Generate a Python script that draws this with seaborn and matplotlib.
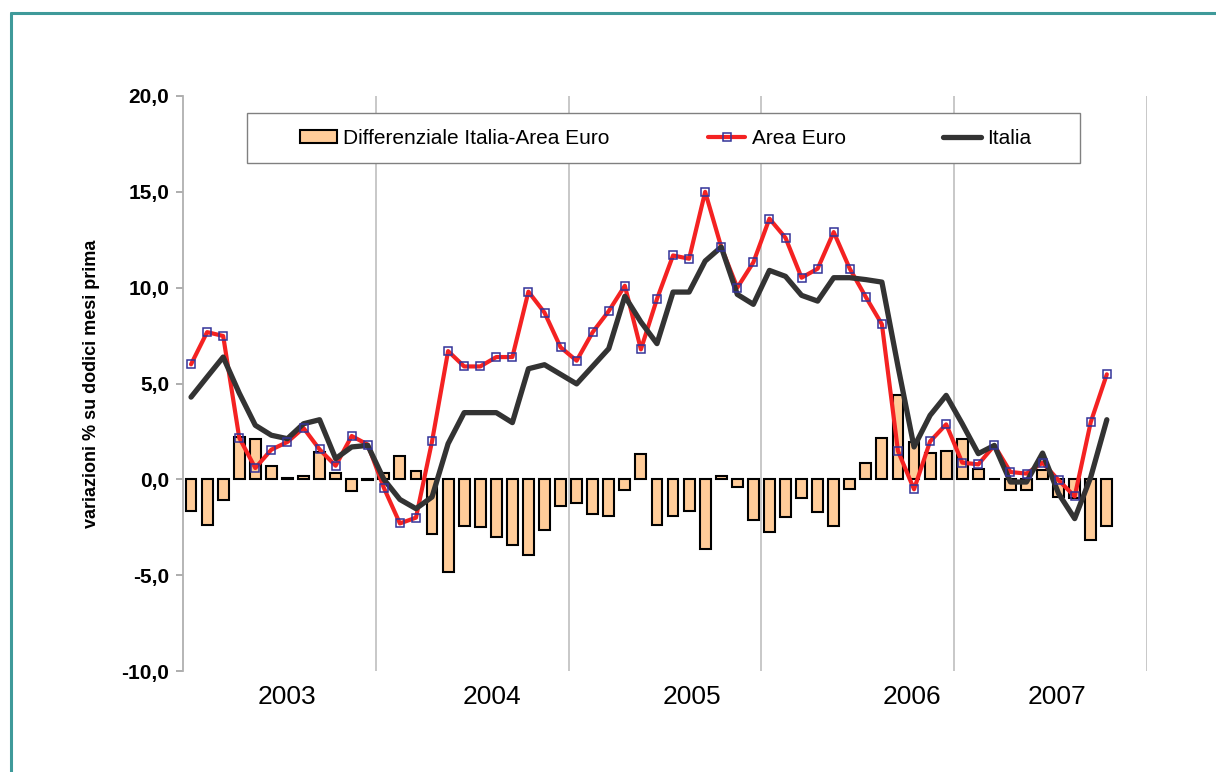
import matplotlib
matplotlib.use("Agg")
import matplotlib.pyplot as plt
import numpy as np
import pandas as pd
import seaborn as sns
from matplotlib.lines import Line2D
from matplotlib.patches import Patch, Rectangle

# monthly values, % change on twelve months earlier
area_euro = [6.0, 7.68, 7.48, 2.17, 0.59, 1.55, 1.95, 2.68, 1.56, 0.71, 2.26, 1.81,
             -0.44, -2.3, -2.0, 1.98, 6.69, 5.89, 5.89, 6.38, 6.38, 9.79, 8.70, 6.89,
             6.19, 7.68, 8.78, 10.1, 6.78, 9.41, 11.68, 11.51, 15.0, 12.12, 10.0, 11.32,
             13.6, 12.6, 10.52, 10.99, 12.9, 10.99, 9.51, 8.09, 1.48, -0.52, 1.98, 2.87,
             0.87, 0.78, 1.77, 0.38, 0.30, 0.87, -0.05, -0.89, 2.99, 5.48]
italia = [4.29, 5.34, 6.38, 4.5, 2.82, 2.3, 2.12, 2.9, 3.11, 1.08, 1.69, 1.77,
          0.0, -1.05, -1.53, -0.92, 1.86, 3.48, 3.48, 3.48, 2.96, 5.77, 5.98, 5.48,
          4.98, 5.9, 6.82, 9.55, 8.21, 7.08, 9.77, 9.77, 11.39, 12.12, 9.65, 9.13,
          10.9, 10.59, 9.6, 9.3, 10.52, 10.52, 10.42, 10.29, 5.9, 1.69, 3.34, 4.38,
          2.9, 1.34, 1.77, -0.14, -0.14, 1.37, -0.75, -2.05, 0.12, 3.11]
differenziale = [-1.67, -2.36, -1.1, 2.2, 2.12, 0.7, 0.05, 0.16, 1.42, 0.35, -0.63, -0.03,
                 0.34, 1.23, 0.43, -2.83, -4.83, -2.43, -2.49, -3.0, -3.44, -3.96, -2.66, -1.41,
                 -1.24, -1.83, -1.93, -0.57, 1.3, -2.36, -1.93, -1.67, -3.65, 0.17, -0.40, -2.14,
                 -2.75, -1.97, -0.97, -1.7, -2.45, -0.52, 0.87, 2.17, 4.38, 1.95, 1.37, 1.48,
                 2.1, 0.56, 0.02, -0.56, -0.55, 0.5, -0.9, -0.95, -3.15, -2.45]
years = ["2003", "2004", "2005", "2006", "2007"]
year_label_pos = [6.0, 18.7, 31.2, 44.9, 53.9]
year_bounds = [11.5, 23.5, 35.5, 47.5, 59.5]

BAR_COLOR = "#FFCC99"
RED = "#F42222"
DARK = "#333333"
NAVY = "#333399"

sns.set_theme(style="white")
plt.rcParams["font.family"] = ["Liberation Sans", "DejaVu Sans"]
plt.rcParams["text.color"] = "black"
plt.rcParams["axes.labelcolor"] = "black"
plt.rcParams["ytick.labelcolor"] = "black"

data = pd.DataFrame({
    "month": np.arange(len(area_euro)),
    "area_euro": area_euro,
    "italia": italia,
    "diff": differenziale,
})

fig = plt.figure(figsize=(12.16, 7.72), dpi=100)
ax = fig.add_axes([183 / 1216, 1 - 671 / 772, 964 / 1216, 575 / 772])

sns.barplot(data=data, x="month", y="diff", color=BAR_COLOR, saturation=1,
            width=0.68, edgecolor="black", linewidth=1.5, ax=ax, zorder=2)
sns.lineplot(data=data, x="month", y="area_euro", color=RED, linewidth=3.0, ax=ax, zorder=3)
sns.lineplot(data=data, x="month", y="italia", color=DARK, linewidth=3.8, ax=ax, zorder=4)
ax.plot(data["month"], data["area_euro"], linestyle="none", marker="s", markersize=6,
        markerfacecolor="none", markeredgecolor=NAVY, markeredgewidth=1.1, zorder=5)

ax.set_xlim(-0.5, 59.5)
ax.set_ylim(-10, 20)
ax.set_xticks(year_bounds)
ax.set_xticklabels([])
ax.tick_params(axis="x", length=0)
ax.grid(axis="x", color="#c4c4c4", linewidth=1.3, zorder=0)
ax.set_axisbelow(True)

yt = np.arange(-10, 21, 5)
ax.set_yticks(yt)
ax.set_yticklabels([f"{v:.1f}".replace(".", ",") for v in yt], fontsize=15, fontweight="bold")
ax.tick_params(axis="y", direction="out", length=5, width=1.2, color="#a0a0a0", pad=5, left=True)
for side in ["top", "right", "bottom"]:
    ax.spines[side].set_visible(False)
ax.spines["left"].set_color("#b0b0b0")
ax.spines["left"].set_linewidth(1.3)

ax.set_xlabel("")
ax.set_ylabel("variazioni % su dodici mesi prima", fontsize=13, fontweight="bold")
ax.yaxis.set_label_coords(-0.086, 0.5)

for pos, yr in zip(year_label_pos, years):
    ax.text(pos, -0.045, yr, transform=ax.get_xaxis_transform(), ha="center", va="center",
            fontsize=19)

# legend box drawn over the axes, legend text on top of it
fig.add_artist(Rectangle((247 / 1216, 1 - 163 / 772), 833 / 1216, 50 / 772,
                         transform=fig.transFigure, facecolor="white",
                         edgecolor="#808080", linewidth=1.0, zorder=4))
handles = [
    Patch(facecolor=BAR_COLOR, edgecolor="black", linewidth=1.5),
    Line2D([], [], color=RED, linewidth=3.0, marker="s", markersize=6,
           markerfacecolor="none", markeredgecolor=NAVY, markeredgewidth=1.1),
    Line2D([], [], color=DARK, linewidth=3.8),
]
labels = ["Differenziale Italia-Area Euro", "Area Euro", "Italia"]
leg = fig.legend(handles, labels, loc="center", bbox_to_anchor=(665.5 / 1216, 1 - 138 / 772),
                 ncol=3, frameon=False, fontsize=15, handlelength=1.8, handleheight=0.6,
                 handletextpad=0.3, columnspacing=4.7)
leg.set_zorder(6)

# teal frame around the chart area
fig.add_artist(Line2D([11 / 1216, 11 / 1216], [0, 1 - 13 / 772], color="#3F9A9A",
                      linewidth=2.2, transform=fig.transFigure))
fig.add_artist(Line2D([11 / 1216, 1], [1 - 13 / 772, 1 - 13 / 772], color="#3F9A9A",
                      linewidth=2.2, transform=fig.transFigure))

fig.savefig("out.png", dpi=100)
